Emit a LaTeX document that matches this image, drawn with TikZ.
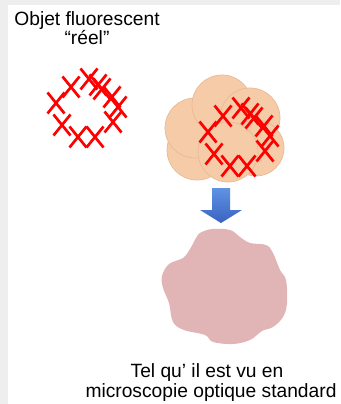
\documentclass[tikz,border=0pt]{standalone}
\usepackage{fontspec}
\setmainfont{Liberation Sans}
\definecolor{peau}{HTML}{F6CBA8}
\definecolor{peaubord}{HTML}{E8BA96}
\definecolor{rose}{HTML}{E1B5B5}
\definecolor{cadre}{HTML}{EEEEEE}
\definecolor{bleuclair}{HTML}{5F93E3}
\definecolor{bleufonce}{HTML}{3A63C2}
\tikzset{
  croix/.pic={\draw[red,line width=2.3pt] (-8.5,-10.5) -- (8.5,10.5) (-8.5,10.5) -- (8.5,-10.5);},
  legende/.style={anchor=base,inner sep=0pt,font=\fontsize{16.4}{17}\selectfont},
  tache/.style={fill=peau,draw=peaubord,line width=0.6pt}
}
\begin{document}
\begin{tikzpicture}[x=0.03cm,y=-0.03cm]
\useasboundingbox (0,0) rectangle (340,404);
\fill[cadre] (0,0) rectangle (340,404);
\fill[white] (8,5) rectangle (340,404);
% titles
\node[legende] (titre1) at (87,26) {Objet fluorescent};
\node[legende] (titre2) at (87,45) {“réel”};
\node[legende] (vu1) at (207,377) {Tel qu’ il est vu en};
\node[legende] (vu2) at (211,397) {microscopie optique standard};
% blurred spot seen through the microscope
\foreach \cx/\cy/\r in {197/150/30,195/128/30,222/105/30,250/118/30,256/148/28,228/152/30}
  \draw[tache] (\cx,\cy) circle (\r);
% fluorophores, real object and the same over the spot
\foreach \dx/\dy in {0/0,152/29}
  \foreach \px/\py in {56/103,71/87,89/79,98/85,102/89,112/97,118/107,113/122,62/125,78/137,95/137}
    \pic at (\px+\dx,\py+\dy) {croix};
% arrow down
\shade[top color=bleuclair,bottom color=bleufonce]
  (212,188) -- (230,188) -- (230,210) -- (242,210) -- (221,223)
  -- (200,210) -- (212,210) -- cycle;
% image
\fill[rose] plot[smooth cycle,tension=0.6] coordinates {
  (200,233) (212,229) (230,230) (240,237) (250,243) (266,245) (273,253)
  (280,270) (286,280) (287,303) (283,317) (273,327) (262,331) (250,340)
  (233,344) (213,342) (205,335) (184,330) (173,322) (169,303) (163,288)
  (162,276) (169,264) (183,258) (190,249) (196,238)};
\end{tikzpicture}
\end{document}
